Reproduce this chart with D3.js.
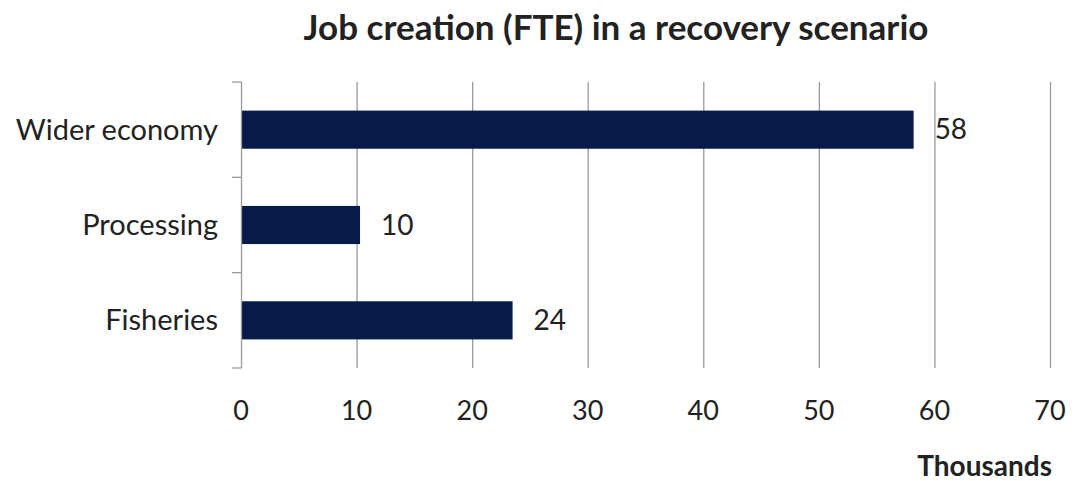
<!DOCTYPE html>
<html>
<head>
<meta charset="utf-8">
<script src="https://cdn.jsdelivr.net/npm/d3@7"></script>
<style>
    body { margin: 0; background: #fff; }
    text { font-family: Lato, "Open Sans", sans-serif; fill: #222; }
</style>
</head>
<body>
<svg id="chart"></svg>
<script>
'use strict';

const categories = ['Wider economy', 'Processing', 'Fisheries'];
const values = [58.2, 10.3, 23.5];
const valueLabels = ['58', '10', '24'];
const xTicks = [0, 10, 20, 30, 40, 50, 60, 70];

(function () {
    const width = 1090;
    const height = 481;
    const margin = { top: 82, right: 40, bottom: 113, left: 241 };

    const svg = d3.select('#chart')
        .attr('width', width)
        .attr('height', height);

    const x = d3.scaleLinear()
        .domain([0, 70])
        .range([margin.left, width - margin.right]);

    const y = d3.scaleBand()
        .domain(categories)
        .range([margin.top, height - margin.bottom])
        .paddingInner(0.6)
        .paddingOuter(0.3);

    // vertical gridlines
    svg.append('g')
        .selectAll('line')
        .data(xTicks.slice(1))
        .enter().append('line')
        .attr('x1', d => x(d) + 0.5)
        .attr('x2', d => x(d) + 0.5)
        .attr('y1', margin.top)
        .attr('y2', height - margin.bottom)
        .attr('stroke', '#9a9a9a')
        .attr('stroke-width', 1.3);

    // bars
    svg.append('g')
        .selectAll('rect')
        .data(categories)
        .enter().append('rect')
        .attr('x', x(0) + 1)
        .attr('y', d => y(d))
        .attr('width', (d, i) => x(values[i]) - x(0) - 1)
        .attr('height', y.bandwidth())
        .attr('fill', '#071b4a');

    // value labels
    svg.append('g')
        .selectAll('text')
        .data(categories)
        .enter().append('text')
        .attr('x', (d, i) => x(values[i]) + 21)
        .attr('y', d => y(d) + y.bandwidth() / 2)
        .attr('dy', '0.35em')
        .style('font-size', '28px')
        .text((d, i) => valueLabels[i]);

    // y axis with ticks between categories
    const yAxis = svg.append('g');
    yAxis.append('line')
        .attr('x1', x(0) + 0.5).attr('x2', x(0) + 0.5)
        .attr('y1', margin.top).attr('y2', height - margin.bottom)
        .attr('stroke', '#9a9a9a')
        .attr('stroke-width', 1.3);
    const tickYs = d3.range(categories.length + 1).map(i => margin.top + i * (height - margin.top - margin.bottom) / categories.length);
    yAxis.selectAll('.ytick')
        .data(tickYs)
        .enter().append('line')
        .attr('x1', x(0) - 9).attr('x2', x(0) + 0.5)
        .attr('y1', d => d).attr('y2', d => d)
        .attr('stroke', '#9a9a9a')
        .attr('stroke-width', 1.3);
    yAxis.selectAll('text')
        .data(categories)
        .enter().append('text')
        .attr('x', x(0) - 23)
        .attr('y', d => y(d) + y.bandwidth() / 2)
        .attr('dy', '0.35em')
        .attr('text-anchor', 'end')
        .style('font-size', '29px')
        .text(d => d);

    // x tick labels
    svg.append('g')
        .selectAll('text')
        .data(xTicks)
        .enter().append('text')
        .attr('x', d => x(d))
        .attr('y', 411)
        .attr('dy', '0.35em')
        .attr('text-anchor', 'middle')
        .style('font-size', '27px')
        .text(d => d);

    svg.append('text')
        .attr('x', 1052)
        .attr('y', 466)
        .attr('dy', '0.35em')
        .attr('text-anchor', 'end')
        .style('font-size', '28px')
        .style('font-weight', 'bold')
        .text('Thousands');

    svg.append('text')
        .attr('x', 616)
        .attr('y', 28)
        .attr('dy', '0.35em')
        .attr('text-anchor', 'middle')
        .style('font-size', '35px')
        .style('font-weight', 'bold')
        .text('Job creation (FTE) in a recovery scenario');
})();
</script>
</body>
</html>
